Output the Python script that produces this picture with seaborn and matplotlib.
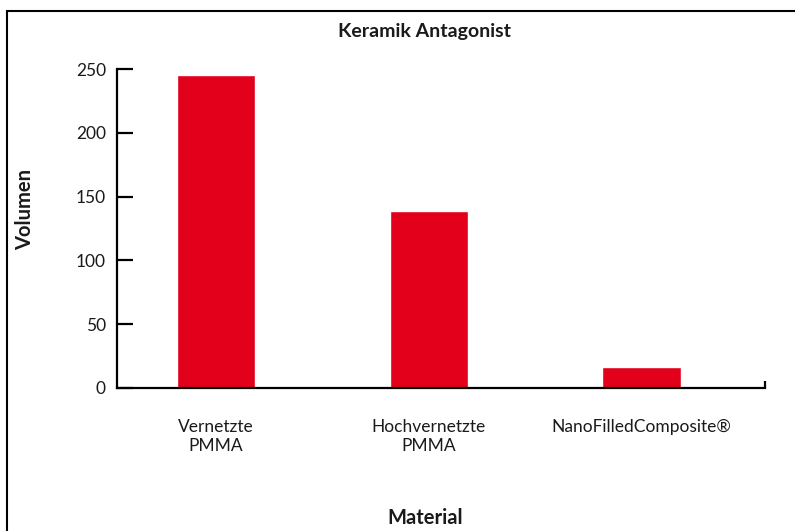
import matplotlib
matplotlib.use("Agg")
import matplotlib.pyplot as plt
from matplotlib.patches import Rectangle
import seaborn as sns
import pandas as pd

# data
materials = ["Vernetzte\nPMMA", "Hochvernetzte\nPMMA", "NanoFilledComposite®"]
volumen = [245.5, 139, 16.5]
y_ticks = [0, 50, 100, 150, 200, 250]

df = pd.DataFrame({"Material": materials, "Volumen": volumen})

sns.set_style("white")
plt.rcParams['font.family'] = ['Lato', 'DejaVu Sans']
plt.rcParams['text.color'] = '#1a1a1a'

fig = plt.figure(figsize=(7.95, 5.31), dpi=100)
ax = fig.add_axes([117/795, 1 - 388/531, 648/795, 319/531])

sns.barplot(data=df, x="Material", y="Volumen", color="#e2001a",
            width=0.37, saturation=1, ax=ax)

ax.set_xlim(-0.466, 2.58)
ax.set_ylim(0, 250)
ax.set_yticks(y_ticks)
ax.set_yticklabels([str(t) for t in y_ticks], fontsize=12.5, color='#1a1a1a')
ax.tick_params(axis='y', left=True, direction='in', length=11.5, width=1.6,
               pad=8, color='black')
ax.tick_params(axis='x', which='major', bottom=True, length=0, pad=22,
               labelsize=12.5, labelcolor='#1a1a1a')
ax.set_xticks([2.58], minor=True)
ax.tick_params(axis='x', which='minor', bottom=True, direction='in', length=5,
               width=1.6, color='black')
for lab in ax.get_xticklabels():
    lab.set_linespacing(1.25)

for side in ["top", "right"]:
    ax.spines[side].set_visible(False)
for side in ["left", "bottom"]:
    ax.spines[side].set_color("black")
    ax.spines[side].set_linewidth(1.6)

ax.set_xlabel("")
ax.set_ylabel("")

fig.text(424/795, 1 - 32/531, "Keramik Antagonist", ha='center', va='center',
         fontsize=14, fontweight='bold')
fig.text(425/795, 1 - 518/531, "Material", ha='center', va='center',
         fontsize=14.5, fontweight='bold')
fig.text(25/795, 1 - 209/531, "Volumen", ha='center', va='center',
         fontsize=14.5, fontweight='bold', rotation=90)

# frame around the figure (runs off the right and bottom edges)
fig.patches.append(Rectangle((7/795, -0.1), 1.2, 1 - 11/531 + 0.1,
                             transform=fig.transFigure, fill=False,
                             edgecolor='black', linewidth=1.5))

fig.savefig("out.png", dpi=100)
